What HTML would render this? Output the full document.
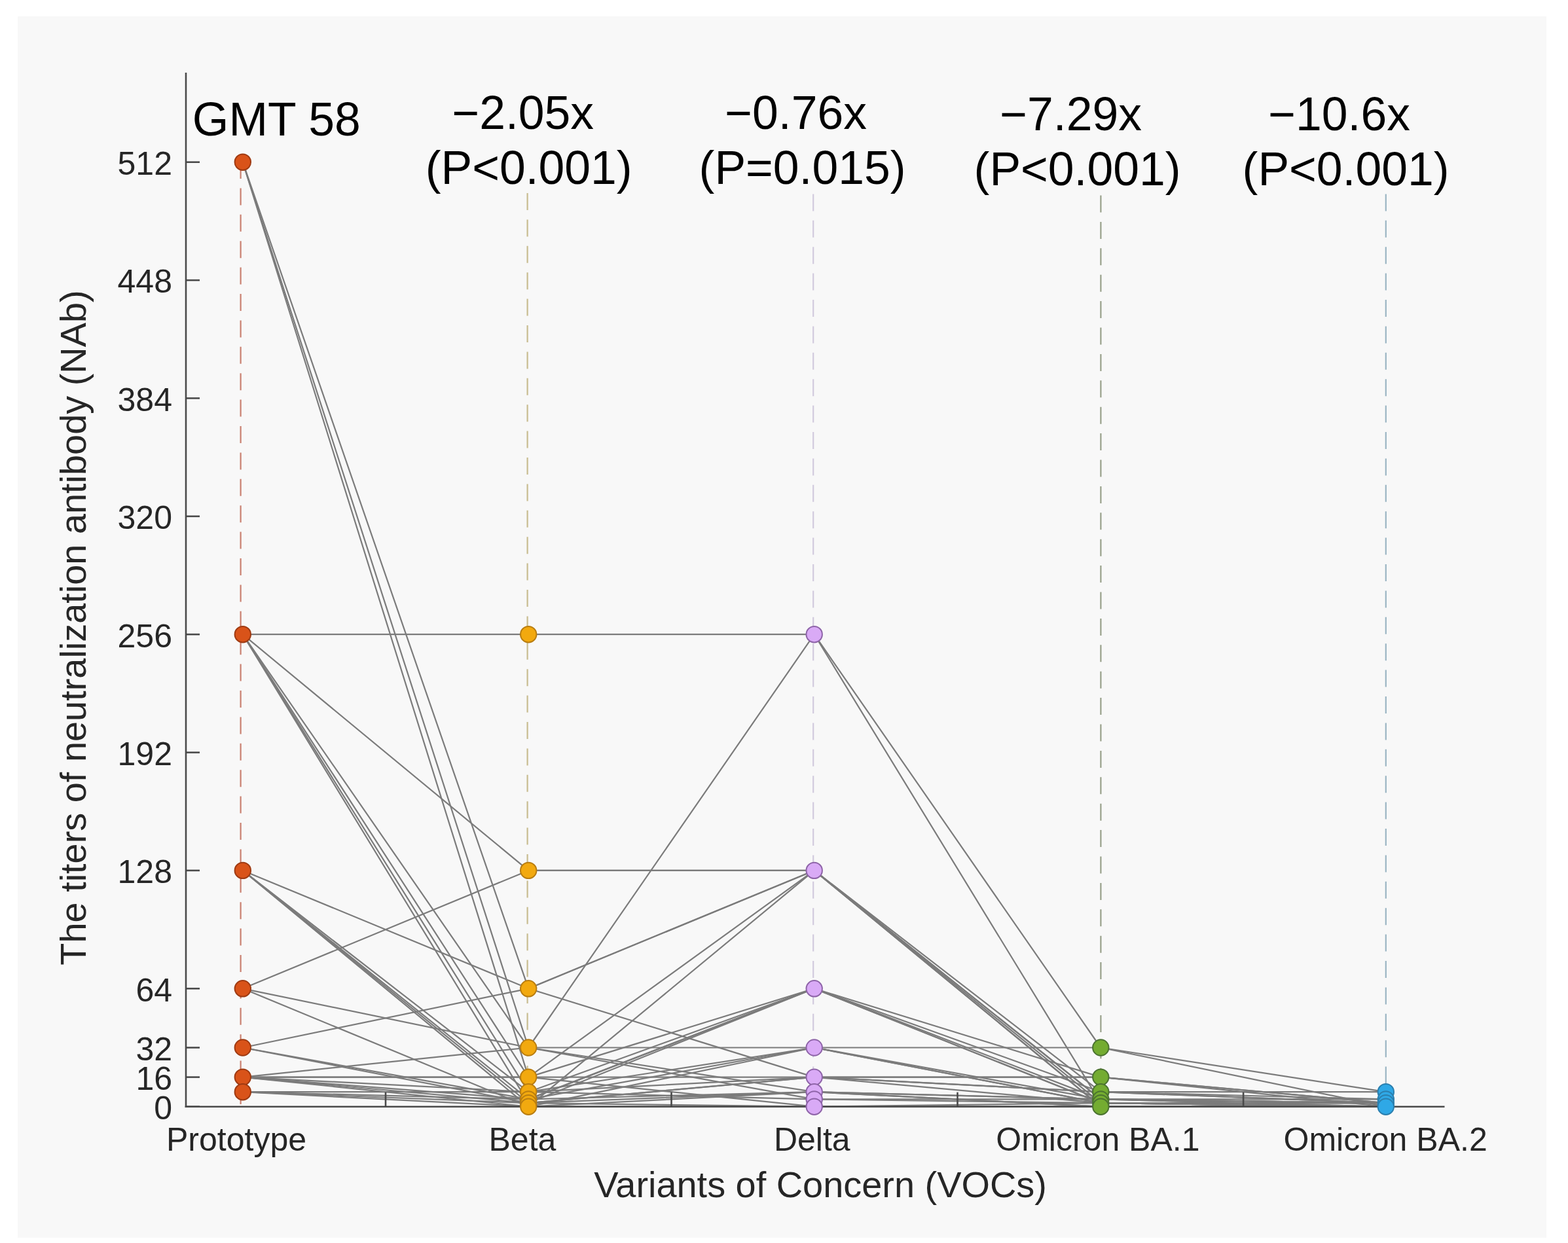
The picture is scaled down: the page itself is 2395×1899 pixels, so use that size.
<!DOCTYPE html><html><head><meta charset="utf-8"><title>Neutralizing antibody titers against VOCs</title>
<style>html,body{margin:0;padding:0;background:#fff;}svg{display:block;}text{font-family:'Liberation Sans',Arial,Helvetica,sans-serif;}</style></head><body>
<svg width="2395" height="1899" viewBox="0 0 2395 1899">
<rect x="0" y="0" width="2395" height="1899" fill="#ffffff"/>
<rect x="27" y="25" width="2335" height="1866" fill="#f8f8f8"/>
<line x1="367.6" y1="247" x2="367.6" y2="1690.7" stroke="#C98070" stroke-width="2.2" stroke-dasharray="26 14.4"/>
<line x1="805.6" y1="295" x2="805.6" y2="1690.7" stroke="#C8BC90" stroke-width="2.2" stroke-dasharray="26 14.4"/>
<line x1="1242.2" y1="296.4" x2="1242.2" y2="1690.7" stroke="#D2CBDD" stroke-width="2.2" stroke-dasharray="26 14.4"/>
<line x1="1681.4" y1="298.5" x2="1681.4" y2="1690.7" stroke="#98A08A" stroke-width="2.2" stroke-dasharray="26 14.4"/>
<line x1="2116.8" y1="296.4" x2="2116.8" y2="1690.7" stroke="#9BB5C3" stroke-width="2.2" stroke-dasharray="26 14.4"/>
<g fill="none" stroke="#7b7b7b" stroke-width="2.2" stroke-linejoin="round"><polyline points="370.8,969.2 807.2,969.2 1243.7,969.2 1681.3,1600.5 2116.8,1668.2"/><polyline points="370.8,247.7 807.2,1600.5 1243.7,969.2 1681.3,1685.1 2116.8,1690.7"/><polyline points="370.8,969.2 807.2,1329.9 1243.7,1329.9 1681.3,1668.2 2116.8,1668.2"/><polyline points="370.8,1510.3 807.2,1329.9 1243.7,1329.9 1681.3,1679.4 2116.8,1685.1"/><polyline points="370.8,247.7 807.2,1510.3 1243.7,1329.9 1681.3,1685.1 2116.8,1690.7"/><polyline points="370.8,1600.5 807.2,1510.3 1243.7,1329.9 1681.3,1690.7 2116.8,1690.7"/><polyline points="370.8,1329.9 807.2,1510.3 1243.7,1645.6 1681.3,1668.2 2116.8,1679.4"/><polyline points="370.8,247.7 807.2,1645.6 1243.7,1329.9 1681.3,1690.7 2116.8,1690.7"/><polyline points="370.8,969.2 807.2,1600.5 1243.7,1600.5 1681.3,1600.5 2116.8,1690.7"/><polyline points="370.8,969.2 807.2,1645.6 1243.7,1645.6 1681.3,1645.6 2116.8,1685.1"/><polyline points="370.8,1510.3 807.2,1600.5 1243.7,1668.2 1681.3,1690.7 2116.8,1690.7"/><polyline points="370.8,1645.6 807.2,1600.5 1243.7,1679.4 1681.3,1685.1 2116.8,1685.1"/><polyline points="370.8,1645.6 807.2,1645.6 1243.7,1510.3 1681.3,1645.6 2116.8,1690.7"/><polyline points="370.8,969.2 807.2,1668.2 1243.7,1510.3 1681.3,1668.2 2116.8,1685.1"/><polyline points="370.8,969.2 807.2,1685.1 1243.7,1510.3 1681.3,1685.1 2116.8,1685.1"/><polyline points="370.8,1329.9 807.2,1690.7 1243.7,1329.9 1681.3,1679.4 2116.8,1685.1"/><polyline points="370.8,1329.9 807.2,1679.4 1243.7,1510.3 1681.3,1679.4 2116.8,1690.7"/><polyline points="370.8,1329.9 807.2,1668.2 1243.7,1600.5 1681.3,1685.1 2116.8,1685.1"/><polyline points="370.8,1329.9 807.2,1685.1 1243.7,1645.6 1681.3,1685.1 2116.8,1690.7"/><polyline points="370.8,1510.3 807.2,1690.7 1243.7,1600.5 1681.3,1679.4 2116.8,1685.1"/><polyline points="370.8,1600.5 807.2,1685.1 1243.7,1668.2 1681.3,1679.4 2116.8,1679.4"/><polyline points="370.8,1600.5 807.2,1679.4 1243.7,1510.3 1681.3,1685.1 2116.8,1690.7"/><polyline points="370.8,1645.6 807.2,1679.4 1243.7,1668.2 1681.3,1690.7 2116.8,1690.7"/><polyline points="370.8,1645.6 807.2,1685.1 1243.7,1690.7 1681.3,1685.1 2116.8,1685.1"/><polyline points="370.8,1668.2 807.2,1668.2 1243.7,1679.4 1681.3,1679.4 2116.8,1685.1"/><polyline points="370.8,1668.2 807.2,1690.7 1243.7,1690.7 1681.3,1690.7 2116.8,1690.7"/><polyline points="370.8,1645.6 807.2,1668.2 1243.7,1645.6 1681.3,1645.6 2116.8,1685.1"/><polyline points="370.8,1668.2 807.2,1679.4 1243.7,1600.5 1681.3,1685.1 2116.8,1690.7"/><polyline points="370.8,1645.6 807.2,1690.7 1243.7,1668.2 1681.3,1679.4 2116.8,1690.7"/><polyline points="370.8,1668.2 807.2,1685.1 1243.7,1645.6 1681.3,1668.2 2116.8,1685.1"/><polyline points="370.8,1645.6 807.2,1645.6 1243.7,1690.7 1681.3,1690.7 2116.8,1690.7"/></g>
<g stroke="#4a4a4a" stroke-width="2.6" fill="none">
<line x1="284" y1="111" x2="284" y2="1692.0"/>
<line x1="282.7" y1="1690.7" x2="2206.5" y2="1690.7"/>
<line x1="284" y1="1690.7" x2="305" y2="1690.7"/>
<line x1="284" y1="1645.6" x2="305" y2="1645.6"/>
<line x1="284" y1="1600.5" x2="305" y2="1600.5"/>
<line x1="284" y1="1510.3" x2="305" y2="1510.3"/>
<line x1="284" y1="1329.9" x2="305" y2="1329.9"/>
<line x1="284" y1="1149.6" x2="305" y2="1149.6"/>
<line x1="284" y1="969.2" x2="305" y2="969.2"/>
<line x1="284" y1="788.8" x2="305" y2="788.8"/>
<line x1="284" y1="608.4" x2="305" y2="608.4"/>
<line x1="284" y1="428.1" x2="305" y2="428.1"/>
<line x1="284" y1="247.7" x2="305" y2="247.7"/>
<line x1="589.0" y1="1690.7" x2="589.0" y2="1668.7"/>
<line x1="1025.5" y1="1690.7" x2="1025.5" y2="1668.7"/>
<line x1="1462.5" y1="1690.7" x2="1462.5" y2="1668.7"/>
<line x1="1899.1" y1="1690.7" x2="1899.1" y2="1668.7"/>
</g>
<circle cx="370.8" cy="247.7" r="12.2" fill="#D95319" stroke="#9E3A12" stroke-width="2"/>
<circle cx="370.8" cy="969.2" r="12.2" fill="#D95319" stroke="#9E3A12" stroke-width="2"/>
<circle cx="370.8" cy="1329.9" r="12.2" fill="#D95319" stroke="#9E3A12" stroke-width="2"/>
<circle cx="370.8" cy="1510.3" r="12.2" fill="#D95319" stroke="#9E3A12" stroke-width="2"/>
<circle cx="370.8" cy="1600.5" r="12.2" fill="#D95319" stroke="#9E3A12" stroke-width="2"/>
<circle cx="370.8" cy="1645.6" r="12.2" fill="#D95319" stroke="#9E3A12" stroke-width="2"/>
<circle cx="370.8" cy="1668.2" r="12.2" fill="#D95319" stroke="#9E3A12" stroke-width="2"/>
<circle cx="807.2" cy="969.2" r="12.2" fill="#F2A90F" stroke="#B97D10" stroke-width="2"/>
<circle cx="807.2" cy="1329.9" r="12.2" fill="#F2A90F" stroke="#B97D10" stroke-width="2"/>
<circle cx="807.2" cy="1510.3" r="12.2" fill="#F2A90F" stroke="#B97D10" stroke-width="2"/>
<circle cx="807.2" cy="1600.5" r="12.2" fill="#F2A90F" stroke="#B97D10" stroke-width="2"/>
<circle cx="807.2" cy="1645.6" r="12.2" fill="#F2A90F" stroke="#B97D10" stroke-width="2"/>
<circle cx="807.2" cy="1668.2" r="12.2" fill="#F2A90F" stroke="#B97D10" stroke-width="2"/>
<circle cx="807.2" cy="1679.4" r="12.2" fill="#F2A90F" stroke="#B97D10" stroke-width="2"/>
<circle cx="807.2" cy="1685.1" r="12.2" fill="#F2A90F" stroke="#B97D10" stroke-width="2"/>
<circle cx="807.2" cy="1690.7" r="12.2" fill="#F2A90F" stroke="#B97D10" stroke-width="2"/>
<circle cx="1243.7" cy="969.2" r="12.2" fill="#D9AAF6" stroke="#8E64A8" stroke-width="2"/>
<circle cx="1243.7" cy="1329.9" r="12.2" fill="#D9AAF6" stroke="#8E64A8" stroke-width="2"/>
<circle cx="1243.7" cy="1510.3" r="12.2" fill="#D9AAF6" stroke="#8E64A8" stroke-width="2"/>
<circle cx="1243.7" cy="1600.5" r="12.2" fill="#D9AAF6" stroke="#8E64A8" stroke-width="2"/>
<circle cx="1243.7" cy="1645.6" r="12.2" fill="#D9AAF6" stroke="#8E64A8" stroke-width="2"/>
<circle cx="1243.7" cy="1668.2" r="12.2" fill="#D9AAF6" stroke="#8E64A8" stroke-width="2"/>
<circle cx="1243.7" cy="1679.4" r="12.2" fill="#D9AAF6" stroke="#8E64A8" stroke-width="2"/>
<circle cx="1243.7" cy="1690.7" r="12.2" fill="#D9AAF6" stroke="#8E64A8" stroke-width="2"/>
<circle cx="1681.3" cy="1600.5" r="12.2" fill="#74AC31" stroke="#4B7330" stroke-width="2"/>
<circle cx="1681.3" cy="1645.6" r="12.2" fill="#74AC31" stroke="#4B7330" stroke-width="2"/>
<circle cx="1681.3" cy="1668.2" r="12.2" fill="#74AC31" stroke="#4B7330" stroke-width="2"/>
<circle cx="1681.3" cy="1679.4" r="12.2" fill="#74AC31" stroke="#4B7330" stroke-width="2"/>
<circle cx="1681.3" cy="1685.1" r="12.2" fill="#74AC31" stroke="#4B7330" stroke-width="2"/>
<circle cx="1681.3" cy="1690.7" r="12.2" fill="#74AC31" stroke="#4B7330" stroke-width="2"/>
<circle cx="2116.8" cy="1668.2" r="12.2" fill="#2FA8E6" stroke="#2B7FAE" stroke-width="2"/>
<circle cx="2116.8" cy="1679.4" r="12.2" fill="#2FA8E6" stroke="#2B7FAE" stroke-width="2"/>
<circle cx="2116.8" cy="1685.1" r="12.2" fill="#2FA8E6" stroke="#2B7FAE" stroke-width="2"/>
<circle cx="2116.8" cy="1690.7" r="12.2" fill="#2FA8E6" stroke="#2B7FAE" stroke-width="2"/>
<g font-size="50" fill="#262626" text-anchor="end">
<text x="263" y="1710.0">0</text>
<text x="263" y="1664.9">16</text>
<text x="263" y="1619.8">32</text>
<text x="263" y="1529.6">64</text>
<text x="263" y="1349.2">128</text>
<text x="263" y="1168.9">192</text>
<text x="263" y="988.5">256</text>
<text x="263" y="808.1">320</text>
<text x="263" y="627.7">384</text>
<text x="263" y="447.4">448</text>
<text x="263" y="267.0">512</text>
</g>
<g font-size="50" fill="#262626" text-anchor="middle">
<text x="361.0" y="1758">Prototype</text>
<text x="797.9" y="1758">Beta</text>
<text x="1240.3" y="1758">Delta</text>
<text x="1676.9" y="1758">Omicron BA.1</text>
<text x="2116.1" y="1758">Omicron BA.2</text>
</g>
<text x="1253" y="1828.7" font-size="55.9" fill="#262626" text-anchor="middle">Variants of Concern (VOCs)</text>
<text transform="translate(131,1474.7) rotate(-90)" x="0" y="0" font-size="55.9" fill="#262626">The titers of neutralization antibody (NAb)</text>
<g font-size="71.5" fill="#000">
<text x="293.8" y="207.2">GMT 58</text>
<text x="690.4" y="196.7">−2.05x</text>
<text x="649.7" y="281">(P&lt;0.001)</text>
<text x="1107.3" y="196.6">−0.76x</text>
<text x="1067.6" y="281">(P=0.015)</text>
<text x="1527.3" y="199">−7.29x</text>
<text x="1487.6" y="282.6">(P&lt;0.001)</text>
<text x="1937.3" y="199">−10.6x</text>
<text x="1897.6" y="282.6">(P&lt;0.001)</text>
</g>
</svg></body></html>
